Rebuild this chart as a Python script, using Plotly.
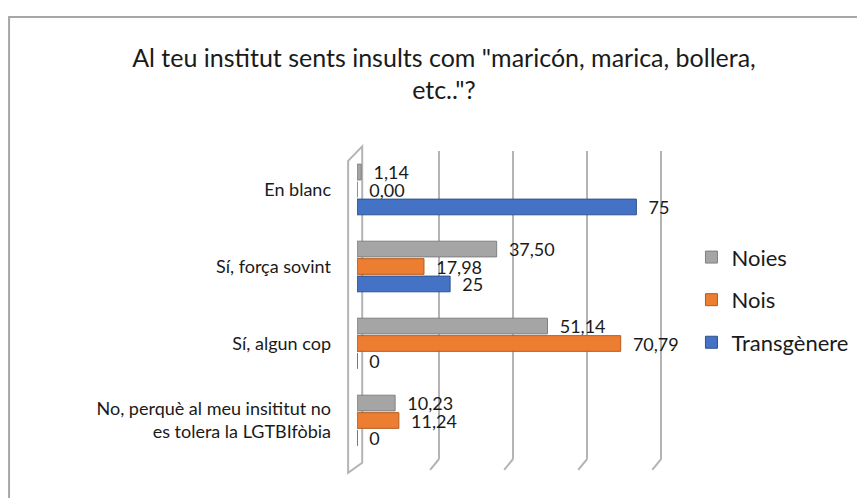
import plotly.graph_objects as go

# answers, top to bottom
categories = ['En blanc',
              'Sí, força sovint',
              'Sí, algun cop',
              'No, perquè al meu insititut no<br>es tolera la LGTBIfòbia']

noies = [1.14, 37.50, 51.14, 10.23]
nois = [0.00, 17.98, 70.79, 11.24]
transgenere = [75, 25, 0, 0]

grid_ticks = [0, 20, 40, 60, 80]

FONT = 'Lato'
GRID = '#b4b4b4'
NBSP = '\u00a0'

def fmt2(vals):
    return [f'{v:.2f}'.replace('.', ',') for v in vals]

series = [
    ('Noies', noies, fmt2(noies), '#a5a5a5', '#808080'),
    ('Nois', nois, fmt2(nois), '#ed7d31', '#b45b1f'),
    ('Transgènere', transgenere, [str(v) for v in transgenere], '#4472c4', '#2f528f'),
]

fig = go.Figure()
for name, vals, txt, col, edge in series:
    fig.add_trace(go.Bar(
        y=categories, x=vals, name=name, orientation='h',
        marker=dict(color=col, line=dict(color=edge, width=1)),
        text=txt, texttemplate=NBSP * 2 + '%{text}',
        textposition='outside', cliponaxis=False, constraintext='none',
        textfont=dict(family=FONT, size=18, color='#1a1a1a'),
        legendgroup=name,
        hoverinfo='skip',
    ))

# invisible trace on the back wall axis so its gridlines get drawn
fig.add_trace(go.Scatter(x=grid_ticks, y=[categories[0]] * len(grid_ticks),
                         xaxis='x2', mode='markers', marker=dict(opacity=0),
                         showlegend=False, hoverinfo='skip'))

# chart frame (only top and left edges are visible in the crop)
shapes = [dict(type='rect', xref='paper', yref='paper',
               x0=-1.137, x1=2.0, y0=-1.0, y1=1.435,
               line=dict(color='#a6a6a6', width=2), layer='below')]
# left wall of the 3-D plot area
shapes.append(dict(type='path', xref='paper', yref='paper',
                   path='M -0.029,0.968 L 0.017,1.015 L 0.017,-0.012 L -0.029,-0.045 Z',
                   line=dict(color=GRID, width=2), layer='below'))
# slanted feet of the back-wall gridlines
for t in grid_ticks[1:]:
    shapes.append(dict(type='line', xref='x2', yref='paper',
                       x0=t, x1=t - 2.4, y0=0.0, y1=-0.035,
                       line=dict(color=GRID, width=2), layer='below'))

fig.update_layout(
    width=865, height=498,
    margin=dict(l=349, r=210, t=143, b=47),
    paper_bgcolor='white', plot_bgcolor='white',
    barmode='group', bargap=0.32, bargroupgap=0.1,
    font=dict(family=FONT, color='#1a1a1a'),
    title=dict(text='Al teu institut sents insults com "maricón, marica, bollera,<br>etc.."?',
               x=0.504, xanchor='center', xref='container',
               y=0.882, yanchor='top', yref='container',
               font=dict(family=FONT, size=25, color='#1a1a1a')),
    legend=dict(x=1.093, xanchor='left', y=0.517, yanchor='middle',
                font=dict(family=FONT, size=22, color='#1a1a1a'),
                tracegroupgap=11, itemclick=False),
    shapes=shapes,
    showlegend=True,
    xaxis=dict(range=[0, 82.15], showticklabels=False, showgrid=False,
               zeroline=False, fixedrange=True),
    xaxis2=dict(overlaying='x', side='bottom', range=[-2.16, 80.5],
                tickvals=grid_ticks[1:], showticklabels=False,
                showgrid=True, gridcolor=GRID, gridwidth=2,
                zeroline=False, fixedrange=True),
)
fig.update_yaxes(categoryorder='array', categoryarray=categories,
                 autorange='reversed', showgrid=False, showline=False,
                 ticklabelstandoff=25,
                 tickfont=dict(family=FONT, size=18, color='#1a1a1a'),
                 fixedrange=True)

fig.write_html('out.html')
